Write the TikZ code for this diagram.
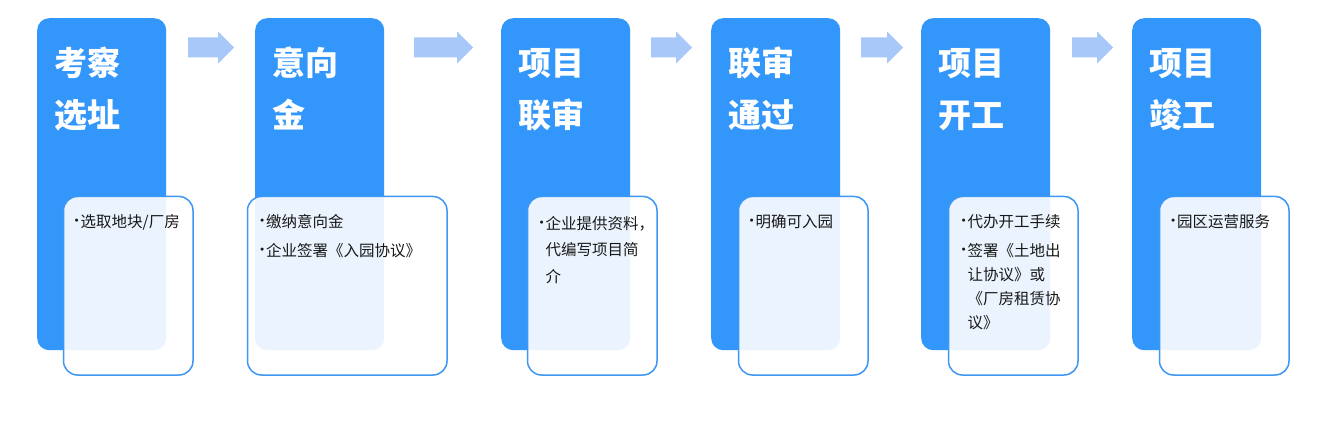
\documentclass[tikz,border=0pt]{standalone}
\usepackage{fontspec}
\setmainfont{Noto Sans CJK SC}
\newfontfamily\bulfont{DejaVu Sans}
\usetikzlibrary{shapes.arrows}
\definecolor{stepblue}{RGB}{51,150,250}
\definecolor{arrowblue}{RGB}{168,200,250}
\definecolor{borderblue}{RGB}{61,151,245}
\definecolor{textdark}{RGB}{25,25,25}
\newcommand\bul{\makebox[5.5pt][l]{\hspace*{-1.5pt}\raisebox{2.1pt}{\bulfont\fontsize{10.5}{10}\selectfont •}}}
\newcommand\ind{\hspace*{5.5pt}}
\begin{document}
\begin{tikzpicture}[x=1pt,y=-1pt,
  stepbox/.style={fill=stepblue, rounded corners=12pt, minimum width=129pt, minimum height=332pt, anchor=north west, inner sep=0pt},
  notebox/.style={fill=white, fill opacity=0.9, draw=borderblue, draw opacity=1, line width=1.5pt, rounded corners=14pt, minimum height=178.5pt, anchor=north west, inner sep=0pt},
  flowarrow/.style={single arrow, fill=arrowblue, single arrow head extend=6pt, single arrow head indent=0pt, inner xsep=0pt, inner ysep=9.8pt, anchor=tail},
  steptitle/.style={text=white, font=\fontsize{33}{52}\selectfont\bfseries, align=left, anchor=base west, inner sep=0pt},
  notetext/.style={text=textdark, font=\fontsize{15.5}{25}\selectfont, align=left, anchor=base west, inner sep=0pt}]
\useasboundingbox[fill=white] (0,0) rectangle (1330,422);
% blue step boxes
\node[stepbox] (s1) at (37,18) {};
\node[stepbox] (s2) at (255,18) {};
\node[stepbox] (s3) at (501,18) {};
\node[stepbox] (s4) at (711,18) {};
\node[stepbox] (s5) at (921,18) {};
\node[stepbox] (s6) at (1132,18) {};
% arrows between steps
\node[flowarrow, minimum height=46pt] (a1) at (188,47.5) {};
\node[flowarrow, minimum height=59pt] (a2) at (414,47.5) {};
\node[flowarrow, minimum height=41pt] (a3) at (651,47.5) {};
\node[flowarrow, minimum height=42pt] (a4) at (861,47.5) {};
\node[flowarrow, minimum height=41pt] (a5) at (1072,47.5) {};
% note boxes
\node[notebox, minimum width=129.5pt] (n1) at (62.75,195.75) {};
\node[notebox, minimum width=199.5pt] (n2) at (246.75,195.75) {};
\node[notebox, minimum width=129.5pt] (n3) at (526.75,195.75) {};
\node[notebox, minimum width=129.5pt] (n4) at (737.75,195.75) {};
\node[notebox, minimum width=129.5pt] (n5) at (947.75,195.75) {};
\node[notebox, minimum width=129.5pt] (n6) at (1158.75,195.75) {};
% titles (anchor = baseline of last line)
\node[steptitle] (t1) at (54,128) {考察\\选址};
\node[steptitle] (t2) at (272,128) {意向\\金};
\node[steptitle] (t3) at (518,128) {项目\\联审};
\node[steptitle] (t4) at (728,128) {联审\\通过};
\node[steptitle] (t5) at (938,128) {项目\\开工};
\node[steptitle] (t6) at (1149,128) {项目\\竣工};
% note texts (anchor = baseline of last line)
\node[notetext] (x1) at (75,227) {\bul 选取地块/厂房};
\node[notetext] (x2) at (260.5,256) {\bul 缴纳意向金\\[4pt]\bul 企业签署《入园协议》};
\node[notetext, font=\fontsize{15.5}{26.5}\selectfont] (x3) at (540,282) {\bul 企业提供资料，\\\ind 代编写项目简\\\ind 介};
\node[notetext] (x4) at (750,227) {\bul 明确可入园};
\node[notetext, font=\fontsize{15.5}{24}\selectfont] (x5) at (962,328) {\bul 代办开工手续\\[5pt]\bul 签署《土地出\\\ind 让协议》或\\\ind 《厂房租赁协\\\ind 议》};
\node[notetext] (x6) at (1171.5,227) {\bul 园区运营服务};
\end{tikzpicture}
\end{document}
